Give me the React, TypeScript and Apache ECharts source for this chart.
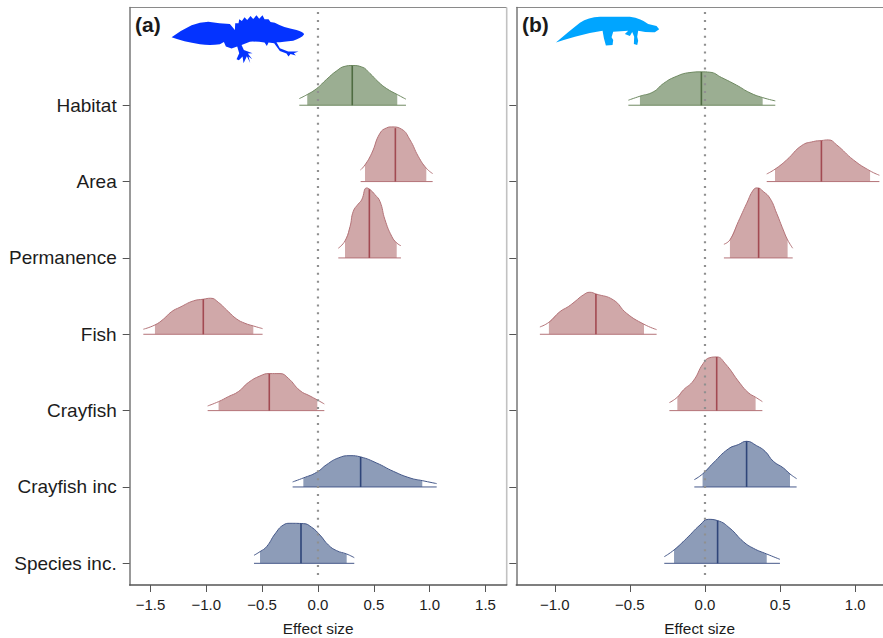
import React, { useEffect, useRef } from "react";
import * as echarts from "echarts";

const rowLabels = ["Habitat", "Area", "Permanence", "Fish", "Crayfish", "Crayfish inc", "Species inc."];
const rowValues = [7, 6, 5, 4, 3, 2, 1];
const ticksA = [-1.5, -1, -0.5, 0, 0.5, 1, 1.5];
const ticksB = [-1, -0.5, 0, 0.5, 1];

// density curves: [effect size, height in hundredths of a row]
const habitatA = [[-0.167,8.7],[-0.096,14],[-0.012,21.8],[0.078,34],[0.167,45],[0.242,51],[0.307,52],[0.391,50.2],[0.466,41.5],[0.54,30.6],[0.615,21.8],[0.71,14],[0.788,7.9]];
const areaA = [[0.382,15.3],[0.421,21.8],[0.481,37],[0.555,63.3],[0.615,70.3],[0.66,71.6],[0.749,68.6],[0.824,54.6],[0.899,32.8],[0.97,17.5],[1.027,10.5]];
const permanenceA = [[0.182,12.7],[0.242,22.3],[0.287,41],[0.316,61],[0.361,70.7],[0.391,76],[0.436,91.7],[0.466,89.5],[0.51,82.9],[0.555,74],[0.6,50],[0.66,28.4],[0.705,19.6],[0.743,16]];
const fishA = [[-1.564,6.6],[-1.46,12.2],[-1.385,19.7],[-1.31,29.7],[-1.236,35.4],[-1.116,43.7],[-1.027,45.9],[-0.961,47.2],[-0.893,41.9],[-0.803,29.7],[-0.728,20],[-0.654,14.4],[-0.579,10.9],[-0.496,7.4]];
const crayfishA = [[-0.988,6.1],[-0.89,11.8],[-0.803,18.3],[-0.713,24.9],[-0.624,36.7],[-0.519,45.4],[-0.436,48.5],[-0.34,48.5],[-0.266,42.4],[-0.161,26.2],[-0.072,19.2],[-0.006,14],[0.057,8.7]];
const crayfishIncA = [[-0.227,6.6],[-0.131,11.8],[-0.012,19.2],[0.078,29.3],[0.182,38],[0.287,41],[0.382,39.3],[0.525,31.4],[0.675,20.5],[0.824,11.8],[0.934,8.3],[1.063,4.4]];
const speciesIncA = [[-0.573,10.5],[-0.519,15.3],[-0.46,21.8],[-0.385,38.4],[-0.31,50.2],[-0.251,52.4],[-0.131,52],[-0.057,47.2],[0.018,37],[0.093,24],[0.167,16.6],[0.257,12.2],[0.325,7.4]];

const habitatB = [[-0.51,6.6],[-0.433,11.8],[-0.344,17.5],[-0.277,28.4],[-0.2,37],[-0.1,42.8],[-0.024,43.7],[0.033,43.2],[0.111,36.2],[0.211,26.2],[0.3,16.2],[0.384,10],[0.468,5.7]];
const areaB = [[0.411,10],[0.466,16.2],[0.544,28.4],[0.644,47.2],[0.721,52.4],[0.775,53.7],[0.821,54.6],[0.877,48],[0.988,28.4],[1.099,14],[1.161,8.3]];
const permanenceB = [[0.126,17.9],[0.166,23.6],[0.222,47.6],[0.278,71.6],[0.322,89],[0.348,91.7],[0.388,87],[0.433,78],[0.477,58.5],[0.521,36.7],[0.55,23.6],[0.584,12.7]];
const fishB = [[-1.099,9.6],[-1.039,15.7],[-0.965,29.7],[-0.91,36.2],[-0.866,42.8],[-0.81,51.5],[-0.766,55],[-0.726,52.8],[-0.61,45],[-0.522,27.5],[-0.406,13.1],[-0.322,6.1]];
const crayfishB = [[-0.237,10.5],[-0.184,17.5],[-0.144,27],[-0.078,38.9],[-0.011,62],[0.033,69.4],[0.078,70.3],[0.133,62],[0.233,35.8],[0.288,23.6],[0.337,17.5],[0.382,11.8]];
const crayfishIncB = [[-0.071,9.6],[-0.016,17],[0.055,31.4],[0.155,49.8],[0.222,55.5],[0.277,59.8],[0.344,54],[0.4,46.7],[0.455,33.6],[0.522,24.9],[0.566,17],[0.61,10.9]];
const speciesIncB = [[-0.271,8.7],[-0.206,17.5],[-0.122,32.8],[-0.033,50.2],[0.022,57.6],[0.084,55.9],[0.166,45.9],[0.255,28.4],[0.322,19.7],[0.411,12.2],[0.499,5.2]];

const curvesA = [habitatA, areaA, permanenceA, fishA, crayfishA, crayfishIncA, speciesIncA];
const curvesB = [habitatB, areaB, permanenceB, fishB, crayfishB, crayfishIncB, speciesIncB];

const mediansA = [0.307, 0.693, 0.46, -1.027, -0.436, 0.382, -0.152];
const medianHeightsA = [52, 70, 90, 46, 48.5, 39.5, 52];
const lowerA = [-0.096, 0.421, 0.242, -1.46, -0.89, -0.131, -0.519];
const upperA = [0.71, 0.97, 0.705, -0.579, -0.006, 0.934, 0.257];

const mediansB = [-0.024, 0.775, 0.357, -0.726, 0.078, 0.277, 0.084];
const medianHeightsB = [43.7, 53.7, 91.5, 52.8, 70.3, 59.8, 56];
const lowerB = [-0.433, 0.466, 0.166, -1.039, -0.184, -0.016, -0.206];
const upperB = [0.384, 1.099, 0.55, -0.406, 0.337, 0.566, 0.411];

const zeroLine = [[0, 8.22], [0, 0.811]];

const GREEN = { fill: "#9bae92", line: "#6f8a62", median: "#4f6c42" };
const RED = { fill: "#d0a8a9", line: "#b47378", median: "#a24a52" };
const BLUE = { fill: "#8d9cb8", line: "#46598a", median: "#2f4579" };
const rowColors = [GREEN, RED, RED, RED, RED, BLUE, BLUE];

const newtA = "M155 112 Q185 90 215 76 Q240 65 265 65 Q300 70 330 72 L345 90 L346 70 L356 70 L358 58 L366 63 L374 52 L382 60 L392 48 L400 57 L410 46 L418 56 L428 46 L434 58 L446 58 L452 66 L465 68 Q490 82 530 90 Q550 95 553 103 Q545 115 520 122 Q490 126 470 127 L480 145 L505 155 L536 155 L522 160 L528 167 L512 162 L506 170 L500 161 L480 153 L463 130 L446 128 L441 138 L434 128 Q410 124 390 125 L365 135 L372 150 L398 160 L384 161 L397 178 L386 170 L391 189 L381 169 L371 190 L368 170 L357 181 L350 178 L358 160 L352 140 L335 146 L318 140 L312 126 L300 133 Q270 137 240 133 Q190 125 155 112 Z";
const newtB = "M168 128 Q205 95 240 68 Q265 52 300 50 L390 50 Q425 55 445 72 L470 78 L478 88 L465 97 Q440 98 415 92 L412 110 L415 122 L412 135 L402 132 L403 110 L397 96 L390 108 L375 102 L385 92 L340 95 L335 112 L340 120 L338 135 L318 137 L312 115 L308 92 Q265 98 225 110 Q195 118 168 128 Z";

const FONT = '"Liberation Sans", Arial, sans-serif';
const TEXT = "#1c1c1c";

function panelSeries(gridIndex: number, curves: number[][][], medians: number[], heights: number[], lower: number[], upper: number[]) {
  const series: any[] = [];
  const common = { type: "line", xAxisIndex: gridIndex, yAxisIndex: gridIndex, symbol: "none", silent: true, clip: false };
  curves.forEach((curve, i) => {
    const row = rowValues[i];
    const c = rowColors[i];
    const pts = curve.map(([x, h]) => [x, row + h / 100]);
    series.push({
      ...common, z: 2, smooth: 0.5,
      data: curve.filter(([x]) => x >= lower[i] && x <= upper[i]).map(([x, h]) => [x, row + h / 100]),
      lineStyle: { width: 0 },
      areaStyle: { color: c.fill, opacity: 1, origin: row },
    });
    series.push({ ...common, z: 3, smooth: 0.5, data: pts, lineStyle: { color: c.line, width: 1 } });
    series.push({ ...common, z: 3, data: [[curve[0][0], row], [curve[curve.length - 1][0], row]], lineStyle: { color: c.line, width: 1 } });
    series.push({ ...common, z: 4, data: [[medians[i], row], [medians[i], row + heights[i] / 100]], lineStyle: { color: c.median, width: 1.6 } });
  });
  series.push({ ...common, z: 5, data: zeroLine, lineStyle: { color: "#909090", width: 2.2, type: [2, 5.9] } });
  return series;
}

function xAxis(gridIndex: number, min: number, max: number, ticks: number[]) {
  return {
    type: "value", gridIndex, min, max,
    splitLine: { show: false },
    axisLine: { show: true, onZero: false, lineStyle: { color: "#555555", width: 1.5 } },
    axisTick: { show: true, length: 7, customValues: ticks, lineStyle: { color: "#555555", width: 1 } },
    axisLabel: {
      show: true, customValues: ticks, margin: 12, fontFamily: FONT, fontSize: 15, color: TEXT,
      showMinLabel: true, showMaxLabel: true,
      formatter: (v: number) => (v < 0 ? "\u2212" : "") + Math.abs(v).toFixed(1),
    },
    name: "Effect size", nameLocation: "middle", nameGap: 36,
    nameTextStyle: { fontFamily: FONT, fontSize: 15.4, color: TEXT },
  };
}

function yAxis(gridIndex: number, showLabels: boolean) {
  return {
    type: "value", gridIndex, min: 0.716, max: 8.28,
    splitLine: { show: false },
    axisLine: { show: true, onZero: false, lineStyle: { color: "#777777", width: 1.5 } },
    axisTick: { show: true, length: 7, customValues: rowValues, lineStyle: { color: "#555555", width: 1 } },
    axisLabel: {
      show: showLabels, customValues: rowValues, margin: 13, fontFamily: FONT, fontSize: 19, color: TEXT,
      padding: [2, 0, 0, 0],
      formatter: (v: number) => rowLabels[rowValues.indexOf(Math.round(v))] ?? "",
    },
  };
}

echarts.graphic.registerShape("newtA", echarts.graphic.extendPath(newtA, {}));
echarts.graphic.registerShape("newtB", echarts.graphic.extendPath(newtB, {}));

export default function App() {
  const ref = useRef<HTMLDivElement>(null);
  useEffect(() => {
    const chart = echarts.init(ref.current!, undefined, { renderer: "svg" });
    chart.setOption({
      animation: false,
      backgroundColor: "#ffffff",
      grid: [
        { left: 129.7, top: 7.5, width: 377, height: 577.5, outerBoundsMode: "none" },
        { left: 516.3, top: 7.5, width: 366.7, height: 577.5, outerBoundsMode: "none" },
      ],
      xAxis: [xAxis(0, -1.686, 1.69, ticksA), xAxis(1, -1.256, 1.185, ticksB)],
      yAxis: [yAxis(0, true), yAxis(1, false)],
      series: [
        ...panelSeries(0, curvesA, mediansA, medianHeightsA, lowerA, upperA),
        ...panelSeries(1, curvesB, mediansB, medianHeightsB, lowerB, upperB),
      ],
      graphic: [
        { type: "line", silent: true, shape: { x1: 129.7, y1: 7.5, x2: 506.7, y2: 7.5 }, style: { stroke: "#8a8a8a", lineWidth: 1.2 } },
        { type: "line", silent: true, shape: { x1: 506.7, y1: 7.5, x2: 506.7, y2: 585 }, style: { stroke: "#c2c2c2", lineWidth: 1.6 } },
        { type: "line", silent: true, shape: { x1: 516.3, y1: 7.5, x2: 883, y2: 7.5 }, style: { stroke: "#8a8a8a", lineWidth: 1.2 } },
        { type: "text", silent: true, x: 135, y: 14, style: { text: "(a)", fontFamily: FONT, fontSize: 21, fontWeight: "bold", fill: "#1a1a1a" } },
        { type: "text", silent: true, x: 522, y: 14, style: { text: "(b)", fontFamily: FONT, fontSize: 21, fontWeight: "bold", fill: "#1a1a1a" } },
        { type: "newtA", silent: true, x: 120, y: 0, scaleX: 1 / 3, scaleY: 1 / 3, style: { fill: "#0433ff" } },
        { type: "newtB", silent: true, x: 500, y: 0, scaleX: 1 / 3, scaleY: 1 / 3, style: { fill: "#00a5ff" } },
      ],
    });
    return () => chart.dispose();
  }, []);
  return <div ref={ref} style={{ position: "absolute", left: 0, top: 0, width: 883, height: 638 }} />;
}
